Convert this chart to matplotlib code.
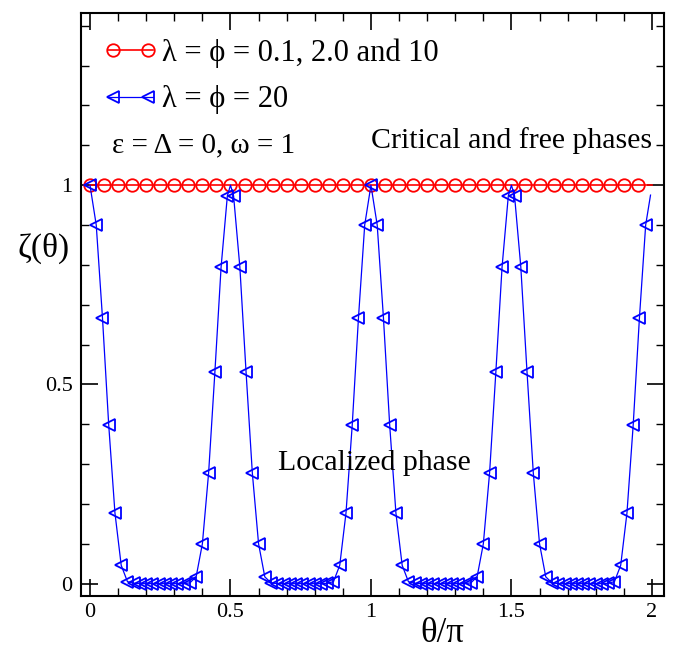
import numpy as np
import matplotlib.pyplot as plt
from matplotlib.ticker import MultipleLocator
from matplotlib.legend_handler import HandlerLine2D, HandlerTuple

plt.rcParams['font.family'] = ['Liberation Serif', 'DejaVu Serif']

# red series: lambda = phi = 0.1, 2.0 and 10 (flat at 1)
red_x = np.round(np.arange(0, 1.96, 0.05), 2)
red_y = [1.0] * len(red_x)
red_line_end = 2.0

# blue series: lambda = phi = 20, sampled at theta/pi = k/45
blue_x = np.arange(90) / 45.0
blue_y = [1.0, 0.90, 0.667, 0.398, 0.177, 0.046, 0.005, 0.001,
          0.0, 0.0, 0.0, 0.0, 0.0, 0.0, 0.0, 0.0,
          0.002, 0.017, 0.10, 0.278, 0.53, 0.795, 0.973,
          0.973, 0.795, 0.53, 0.278, 0.10, 0.017, 0.002,
          0.0, 0.0, 0.0, 0.0, 0.0, 0.0, 0.0, 0.0,
          0.001, 0.005, 0.046, 0.177, 0.398, 0.667, 0.90,
          1.0,
          0.90, 0.667, 0.398, 0.177, 0.046, 0.005, 0.001,
          0.0, 0.0, 0.0, 0.0, 0.0, 0.0, 0.0, 0.0,
          0.002, 0.017, 0.10, 0.278, 0.53, 0.795, 0.973,
          0.973, 0.795, 0.53, 0.278, 0.10, 0.017, 0.002,
          0.0, 0.0, 0.0, 0.0, 0.0, 0.0, 0.0, 0.0,
          0.001, 0.005, 0.046, 0.177, 0.398, 0.667, 0.90]
# the drawn curve also passes through these points between samples
blue_peak_x = [0.5, 1.5, 1.995]
blue_peak_y = [1.0, 1.0, 0.975]

line_x = np.concatenate([blue_x, blue_peak_x])
line_y = np.concatenate([blue_y, blue_peak_y])
order = np.argsort(line_x)
line_x, line_y = line_x[order], line_y[order]

fig = plt.figure(figsize=(6.73, 6.49), dpi=100)
ax = fig.add_axes([81/673, 1 - 596/649, (664 - 81)/673, (596 - 13)/649])

ax.plot(list(red_x) + [red_line_end], red_y + [1.0], '-', color='red', lw=1.2)
ax.plot(red_x, red_y, 'o', color='red', mfc='none', ms=9, mew=1.3)
ax.plot(line_x, line_y, '-', color='blue', lw=0.9)
ax.plot(blue_x, blue_y, '<', color='blue', mfc='none', ms=9, mew=1.3)

# legend handles: full-length line plus two markers inset a little
l1, = ax.plot([], [], '-', color='red', lw=1.2)
m1, = ax.plot([], [], 'o', color='red', mfc='none', ms=9, mew=1.3)
l2, = ax.plot([], [], '-', color='blue', lw=0.9)
m2, = ax.plot([], [], '<', color='blue', mfc='none', ms=9, mew=1.3)
hmap = {l1: HandlerLine2D(numpoints=1), l2: HandlerLine2D(numpoints=1),
        m1: HandlerLine2D(numpoints=2, marker_pad=0.17),
        m2: HandlerLine2D(numpoints=2, marker_pad=0.17),
        tuple: HandlerTuple(ndivide=1, pad=0.0)}
ax.legend([(l1, m1), (l2, m2)], ['λ = ϕ = 0.1, 2.0 and 10', 'λ = ϕ = 20'],
          handler_map=hmap, loc='upper left',
          bbox_to_anchor=(108/673, 1 - 38/649), bbox_transform=fig.transFigure,
          frameon=False, handlelength=1.47, handletextpad=0.3,
          labelspacing=0.58, fontsize=22, borderaxespad=0.0, borderpad=0.0)

ax.text(0.078, 1.100, 'ε = Δ = 0, ω = 1', fontsize=21, va='center', ha='left')
ax.text(1.0, 1.113, 'Critical and free phases', fontsize=21.5, va='center', ha='left')
ax.text(0.669, 0.302, 'Localized phase', fontsize=21.5, va='center', ha='left')

ax.set_xlim(-0.032, 2.043)
ax.set_ylim(-0.031, 1.432)
ax.xaxis.set_minor_locator(MultipleLocator(0.1))
ax.yaxis.set_minor_locator(MultipleLocator(0.1))
ax.set_xticks([0, 0.5, 1, 1.5, 2])
ax.set_xticklabels(['0', '0.5', '1', '1.5', '2'])
ax.set_yticks([0, 0.5, 1])
ax.set_yticklabels(['0', '0.5', '1'])
ax.tick_params(which='both', direction='in', top=True, right=True, labelsize=16)
ax.tick_params(which='major', length=12, width=1.2, pad=6)
ax.tick_params(which='minor', length=6, width=1.0)
ax.tick_params(axis='x', which='major', pad=5)
for s in ax.spines.values():
    s.set_linewidth(1.5)

fig.text(44/673, 1 - 248/649, 'ζ(θ)', fontsize=24, ha='center', va='center')
fig.text(442/673, 1 - 634/649, 'θ/π', fontsize=25, ha='center', va='center')

fig.savefig('out.png', dpi=100)
